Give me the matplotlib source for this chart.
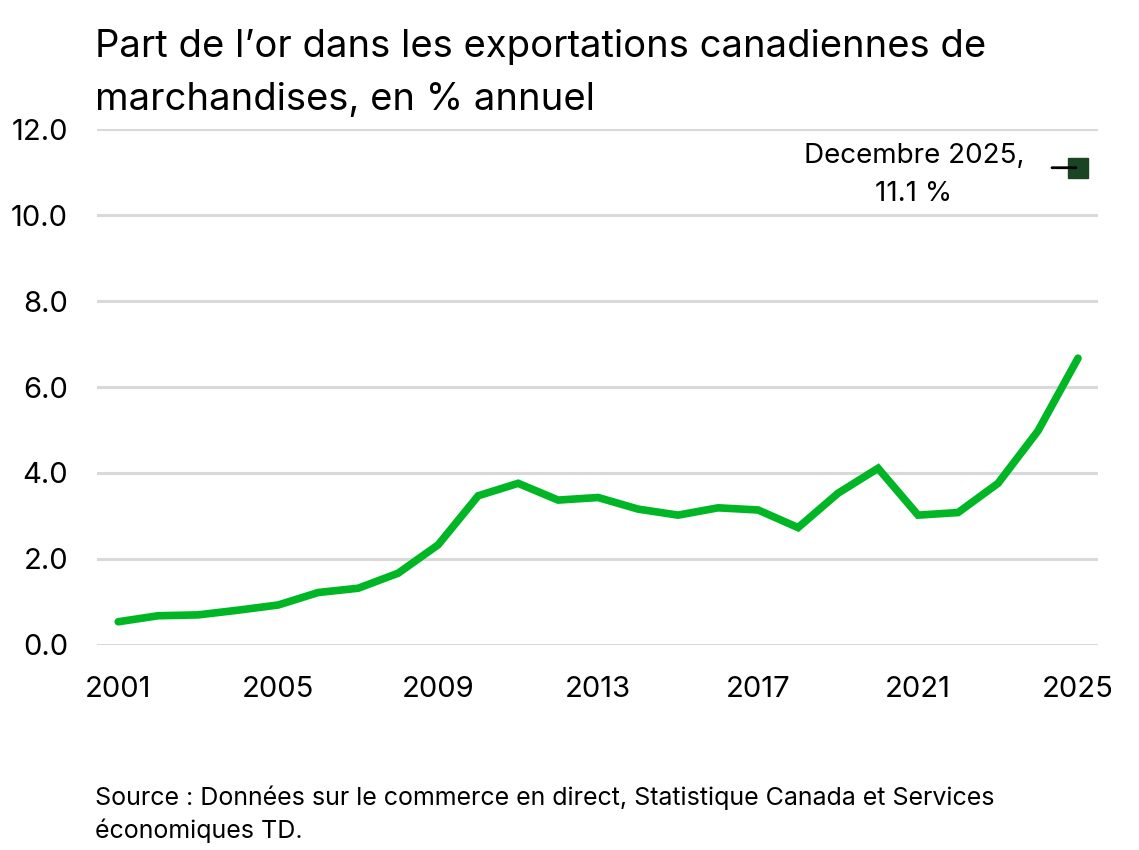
import matplotlib
matplotlib.use("Agg")
import matplotlib.pyplot as plt

plt.rcParams['font.family'] = ['Inter', 'DejaVu Sans']

# Data
years = list(range(2001, 2026))
gold_share = [0.54, 0.68, 0.70, 0.81, 0.93, 1.22, 1.32, 1.67, 2.33, 3.47,
              3.76, 3.37, 3.43, 3.16, 3.02, 3.19, 3.14, 2.73, 3.53, 4.11,
              3.02, 3.08, 3.76, 4.98, 6.67]
dec_year = 2025
dec_value = 11.1
x_ticks = [2001, 2005, 2009, 2013, 2017, 2021, 2025]
y_ticks = [0, 2, 4, 6, 8, 10, 12]

fig = plt.figure(figsize=(11.39, 8.5), dpi=100)
ax = fig.add_axes([0.0852, 0.2412, 0.8788, 0.607])

ax.plot(years, gold_share, color='#00b624', linewidth=5.5, solid_capstyle='round',
        solid_joinstyle='miter', zorder=3)
ax.plot([dec_year], [dec_value], marker='s', markersize=15, color='#1b4424',
        linestyle='none', zorder=4)

# annotation for December 2025
ax.annotate('', xy=(dec_year - 0.05, dec_value), xytext=(dec_year - 0.65, dec_value),
            arrowprops=dict(arrowstyle='-', color='black', lw=2, shrinkA=0, shrinkB=0),
            zorder=5)
ax.text(2020.9, 10.93, 'Decembre 2025,\n11.1 %', ha='center', va='center',
        fontsize=20, linespacing=1.6)

ax.set_xlim(2000.47, 2025.5)
ax.set_ylim(0, 12)
ax.set_xticks(x_ticks)
ax.set_yticks(y_ticks)
ax.set_yticklabels([f'{v:.1f}' for v in y_ticks])
ax.tick_params(axis='both', length=0, labelsize=21)
ax.tick_params(axis='y', pad=21)
ax.tick_params(axis='x', pad=22)
ax.grid(axis='y', color='#d9d9d9', linewidth=2.2)
ax.set_axisbelow(True)
for s in ax.spines.values():
    s.set_visible(False)

fig.text(0.083, 0.966, "Part de l\u2019or dans les exportations canadiennes de\nmarchandises, en % annuel",
         ha='left', va='top', fontsize=27.5, linespacing=1.6)
fig.text(0.083, 0.076, "Source : Donn\u00e9es sur le commerce en direct, Statistique Canada et Services\n\u00e9conomiques TD.",
         ha='left', va='top', fontsize=18, linespacing=1.45)

fig.savefig('out.png', dpi=100)
